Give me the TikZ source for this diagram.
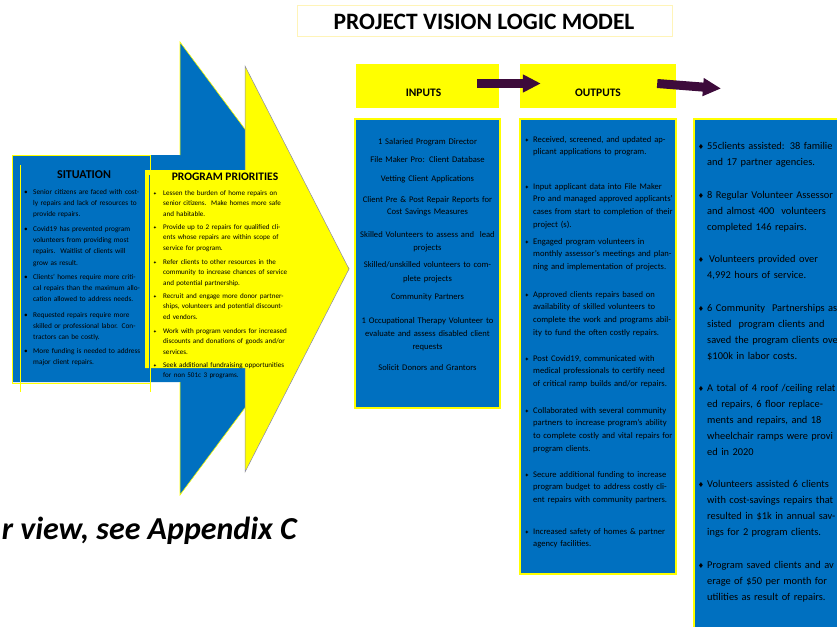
\documentclass[tikz,border=0pt]{standalone}
\usepackage{fontspec}
\setmainfont{Carlito}
\newfontfamily\symf{DejaVu Sans}
\usetikzlibrary{arrows.meta}
\definecolor{lmblue}{HTML}{0070C0}
\definecolor{lmyellow}{HTML}{FFFF00}
\definecolor{lmpurple}{HTML}{3D0B3B}
\definecolor{lmpale}{HTML}{FFF4B8}
\definecolor{lmedge}{HTML}{8888AA}
\newcommand\lmitem[5]{%
  \node[bulletnode] (#1b) at (#2,#4) {\lmbullet};
  \node[itemnode] (#1) at (#3,#4) {#5};}
\tikzset{
  itemnode/.style={anchor=base west, inner sep=0pt, text width=240pt, align=left},
  bulletnode/.style={anchor=base, inner sep=0pt},
  inputline/.style={anchor=base, inner sep=0pt, text width=142pt, align=center},
  contentbox/.style={fill=lmblue, draw=lmyellow, line width=1.8pt},
  hdrbox/.style={fill=lmyellow, draw=none, inner sep=0pt},
  hdrtext/.style={font=\fontsize{11.5}{13}\selectfont\bfseries, inner sep=0pt, anchor=base},
  blockarrow/.style={draw=lmpurple, line width=9pt, -{Triangle[width=17pt,length=18pt]}},
}
\begin{document}
\begin{tikzpicture}[x=1pt,y=-1pt]
\useasboundingbox (0,0) rectangle (837,626);
\clip (0,0) rectangle (837,626);
\fill[white] (0,0) rectangle (837,626);

% big blue arrow
\fill[lmblue] (12,155) -- (180,155) -- (180,42) -- (349,268.5) -- (180,495) -- (180,382) -- (12,382) -- cycle;
\draw[lmyellow, line width=0.6pt] (180,382) -- (180,495) -- (349,268.5) -- (180,42) -- (180,155);
\draw[lmyellow, line width=0.6pt] (12,155) rectangle (150,383);
\draw[lmyellow, line width=0.5pt] (20,165) -- (20,392);
\draw[lmyellow, line width=0.5pt] (150,175) -- (150,392);

% big yellow arrow
\fill[lmyellow] (145,170) -- (245,170) -- (245,66) -- (349,269) -- (245,472) -- (245,368) -- (145,368) -- cycle;
\draw[lmedge, line width=0.5pt] (245,368) -- (245,472) -- (349,269) -- (245,66) -- (245,170);
\draw[lmblue, line width=0.5pt] (149,175) -- (149,380);

% situation
\node[hdrtext, font=\fontsize{12}{14}\selectfont\bfseries] (sit) at (84,178) {SITUATION};
\begin{scope}[every node/.append style={font=\fontsize{7.3}{11.4}\selectfont}]
\def\lmbullet{\textbullet}
\lmitem{s1}{26}{33}{194}{Senior citizens are faced with cost-\\ly repairs and lack of resources to\\provide repairs.}
\lmitem{s2}{26}{33}{231}{Covid19 has prevented program\\volunteers from providing most\\repairs.\ \ Waitlist of clients will\\grow as result.}
\lmitem{s3}{26}{33}{279}{Clients' homes require more criti-\\cal repairs than the maximum allo-\\cation allowed to address needs.}
\lmitem{s4}{26}{33}{317}{Requested repairs require more\\skilled or professional labor. Con-\\tractors can be costly.}
\lmitem{s5}{26}{33}{353}{More funding is needed to address\\major client repairs.}
\end{scope}

% program priorities
\node[hdrtext] (prio) at (225,180) {PROGRAM PRIORITIES};
\begin{scope}[every node/.append style={font=\fontsize{7.1}{10.8}\selectfont}]
\def\lmbullet{{\symf\fontsize{4.5}{5}\selectfont ✦}}
\lmitem{p1}{155}{163}{195}{Lessen the burden of home repairs on\\senior citizens.\ \ Make homes more safe\\and habitable.}
\lmitem{p2}{155}{163}{229}{Provide up to 2 repairs for qualified cli-\\ents whose repairs are within scope of\\service for program.}
\lmitem{p3}{155}{163}{264}{Refer clients to other resources in the\\community to increase chances of service\\and potential partnership.}
\lmitem{p4}{155}{163}{298}{Recruit and engage more donor partner-\\ships, volunteers and potential discount-\\ed vendors.}
\lmitem{p5}{155}{163}{333}{Work with program vendors for increased\\discounts and donations of goods and/or\\services.}
\lmitem{p6}{155}{163}{367}{Seek additional fundraising opportunities\\for non 501c 3 programs.}
\end{scope}

% title
\draw[lmpale, line width=0.8pt] (297,5) rectangle (672,36);
\node[anchor=base, inner sep=0pt, font=\fontsize{23.5}{26}\selectfont\bfseries] (title) at (484,30) {PROJECT VISION LOGIC MODEL};

% headers
\node[hdrbox, minimum width=143pt, minimum height=44pt] (inputs) at (427.5,86) {};
\node[hdrtext] (inputst) at (423.5,96) {INPUTS};
\node[hdrbox, minimum width=156pt, minimum height=44pt] (outputs) at (598,86) {};
\node[hdrtext] (outputst) at (598,96) {OUTPUTS};
\coordinate (nextarrow) at (721,88.5);
\draw[blockarrow] ([xshift=-22pt,yshift=2.5pt]inputs.east) -- ([xshift=21pt,yshift=2.5pt]outputs.west);
\draw[blockarrow] ([xshift=-19pt,yshift=2.5pt]outputs.east) -- (nextarrow);

% content boxes
\draw[contentbox] (355,119) rectangle (500,408);
\draw[contentbox] (520,119) rectangle (676,574);
\draw[contentbox] (694,119) rectangle (850,640);

% inputs
\begin{scope}[every node/.append style={font=\fontsize{8.6}{13}\selectfont}]
\node[inputline] (i1) at (427.5,144) {1 Salaried Program Director};
\node[inputline] (i2) at (427.5,162) {File Maker Pro: Client Database};
\node[inputline] (i3) at (427.5,181) {Vetting Client Applications};
\node[inputline, font=\fontsize{8.6}{12.5}\selectfont] (i4) at (427.5,202) {Client Pre \& Post Repair Reports for\\Cost Savings Measures};
\node[inputline] (i5) at (427.5,237) {Skilled Volunteers to assess and\ \ lead\\projects};
\node[inputline, font=\fontsize{8.6}{14}\selectfont] (i6) at (427.5,267) {Skilled/unskilled volunteers to com-\\plete projects};
\node[inputline] (i7) at (427.5,299) {Community Partners};
\node[inputline] (i8) at (427.5,323) {1 Occupational Therapy Volunteer to\\evaluate and assess disabled client\\requests};
\node[inputline] (i9) at (427.5,370) {Solicit Donors and Grantors};
\end{scope}

% outputs
\begin{scope}[every node/.append style={font=\fontsize{8.6}{12.7}\selectfont}]
\def\lmbullet{{\symf\fontsize{5.5}{6}\selectfont ✦}}
\lmitem{o1}{527}{533}{142}{Received, screened, and updated ap-\\plicant applications to program.}
\lmitem{o2}{527}{533}{189}{Input applicant data into File Maker\\Pro and managed approved applicants'\\cases from start to completion of their\\project (s).}
\lmitem{o3}{527}{533}{244}{Engaged program volunteers in\\monthly assessor's meetings and plan-\\ning and implementation of projects.}
\lmitem{o4}{527}{533}{297}{Approved clients repairs based on\\availability of skilled volunteers to\\complete the work and programs abil-\\ity to fund the often costly repairs.}
\lmitem{o5}{527}{533}{361}{Post Covid19, communicated with\\medical professionals to certify need\\of critical ramp builds and/or repairs.}
\lmitem{o6}{527}{533}{413}{Collaborated with several community\\partners to increase program's ability\\to complete costly and vital repairs for\\program clients.}
\lmitem{o7}{527}{533}{477}{Secure additional funding to increase\\program budget to address costly cli-\\ent repairs with community partners.}
\lmitem{o8}{527}{533}{534}{Increased safety of homes \& partner\\agency facilities.}
\end{scope}

% outcomes (cut at the right edge as in the reference)
\begin{scope}[every node/.append style={font=\fontsize{10.4}{16}\selectfont}]
\def\lmbullet{{\symf\fontsize{7}{8}\selectfont ♦}}
\lmitem{c1}{701}{707}{149}{55clients assisted: 38 familie\\and 17 partner agencies.}
\lmitem{c2}{701}{707}{198}{8 Regular Volunteer Assessor\\and almost 400\ \ volunteers\\completed 146 repairs.}
\lmitem{c3}{701}{707}{262}{\hspace{2pt}Volunteers provided over\\4,992 hours of service.}
\lmitem{c4}{701}{707}{311}{6 Community\ \ Partnerships as\\sisted\ \ program clients and\\saved the program clients ove\\\$100k in labor costs.}
\lmitem{c5}{701}{707}{391}{A total of 4 roof /ceiling relat\\ed repairs, 6 floor replace-\\ments and repairs, and 18\\wheelchair ramps were provi\\ed in 2020}
\lmitem{c6}{701}{707}{487}{Volunteers assisted 6 clients\\with cost-savings repairs that\\resulted in \$1k in annual sav-\\ings for 2 program clients.}
\lmitem{c7}{701}{707}{568}{Program saved clients and av\\erage of \$50 per month for\\utilities as result of repairs.}
\end{scope}

% bottom note
\node[anchor=base east, inner sep=0pt, font=\fontsize{32}{36}\selectfont\bfseries\itshape] (note) at (297,539) {r view, see Appendix C};
\end{tikzpicture}
\end{document}
